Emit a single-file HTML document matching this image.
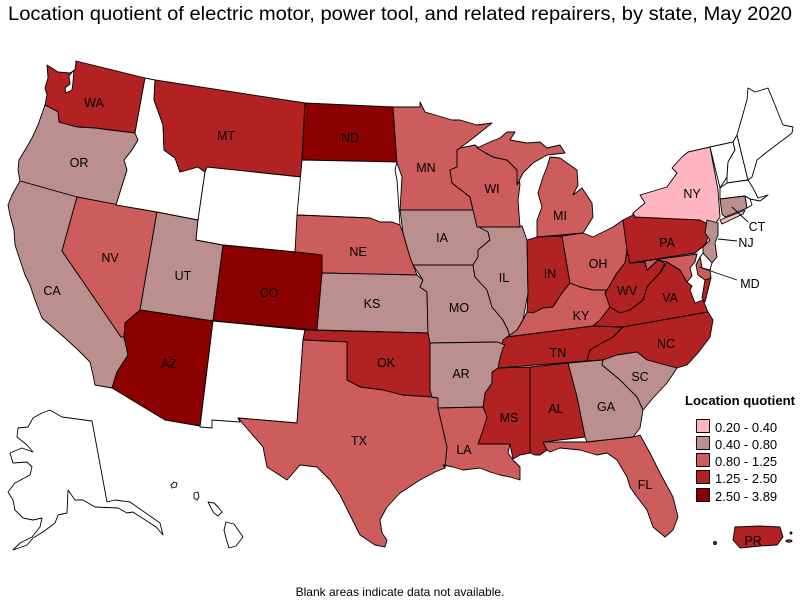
<!DOCTYPE html>
<html>
<head>
<meta charset="utf-8">
<style>
html,body{margin:0;padding:0;background:#fff;}
svg{display:block;}
text{font-family:"Liberation Sans",Arial,sans-serif;}
.s{stroke:#000;stroke-width:0.9;stroke-linejoin:round;}
.l{font-size:12.5px;fill:#000;text-anchor:middle;}
.p{fill:#ffb6c1}.r{fill:#bc8f8f}.i{fill:#cd5c5c}.f{fill:#b22222}.d{fill:#8b0000}.w{fill:#fff}
</style>
</head>
<body>
<svg width="800" height="600" viewBox="0 0 800 600" xmlns="http://www.w3.org/2000/svg">
<rect width="800" height="600" fill="#fff"/>
<text x="8" y="20" font-size="19" textLength="784" lengthAdjust="spacingAndGlyphs">Location quotient of electric motor, power tool, and related repairers, by state, May 2020</text>

<g class="s">
<!-- West -->
<polygon class="f" points="47,65 58,72 70,73 75,70 76,61 145,78 135,133 110,130 95,128 77,127 62,123 59,122 58,112 45,105 47,95 45,88 48,78"/>
<polygon class="w" points="69,76 74,70 73,82 72,90 66,93 65,88 70,84"/>
<polygon class="r" points="45,105 58,112 59,122 62,123 77,127 95,128 110,130 135,133 138,140 132,150 124,160 127,170 116,205 77,197 20,181 18,170 19,160 25,150 32,138 38,125"/>
<polygon class="r" points="20,181 77,197 62,251 121,337 124,337 128,355 117,372 112,388 95,385 93,375 90,362 78,350 65,338 50,325 42,318 35,300 30,285 25,275 20,260 15,245 14,230 10,215 8,205 12,195 16,188"/>
<polygon class="i" points="77,197 157,212 140,310 125,323 124,337 121,337 62,251"/>
<polygon class="r" points="157,212 198,220 196,240 223,245 213,321 140,310"/>
<polygon class="d" points="125,323 140,310 213,321 200,426 165,420 112,388 117,372 128,355 124,337"/>
<polygon class="w" points="145,78 155,80 154,100 163,125 164,150 175,158 180,172 198,167 205,172 198,220 157,212 116,205 127,170 124,160 132,150 138,140 135,133"/>
<polygon class="f" points="155,80 305,103 301,177 207,167 205,172 198,167 180,172 175,158 164,150 163,125 154,100"/>
<polygon class="w" points="207,167 301,177 295,252 223,245 196,240 198,220 205,172"/>
<polygon class="d" points="305,103 393,107 397,162 302,160"/>
<polygon class="w" points="302,160 397,162 395,170 397,180 400,225 392,222 380,222 370,218 297,215"/>
<polygon class="i" points="297,215 370,218 380,222 392,222 400,225 403,233 410,257 417,275 322,273 322,255 295,252"/>
<polygon class="d" points="223,245 295,252 322,255 322,273 317,330 213,321"/>
<polygon class="r" points="322,273 417,275 423,280 420,287 427,292 428,333 317,330"/>
<polygon class="w" points="213,321 305,330 303,340 297,423 238,418 240,422 212,420 212,428 200,427"/>
<polygon class="f" points="305,330 428,333 430,343 432,397 402,395 383,390 360,387 347,380 347,342 303,340"/>
<polygon class="i" points="303,340 347,342 347,380 360,387 383,390 402,395 432,397 438,398 438,408 447,447 445,468 435,472 420,480 400,493 387,507 380,520 382,533 387,540 385,547 375,545 360,535 350,515 340,495 330,480 317,467 300,465 287,480 267,467 263,447 250,432 238,418 297,423"/>
<!-- Midwest -->
<polygon class="i" points="393,107 420,107 420,102 425,112 452,120 460,120 477,125 492,123 477,135 460,148 457,150 457,167 450,170 452,183 470,197 473,210 400,210 402,177 397,163"/>
<polygon class="r" points="400,210 473,210 477,222 488,232 490,240 478,250 478,257 473,267 413,265 410,257 403,233"/>
<polygon class="r" points="413,265 473,265 475,277 487,290 492,307 503,320 508,330 510,338 505,345 497,342 430,343 428,333 427,292 420,287 423,280"/>
<polygon class="r" points="477,226 522,226 527,240 528,293 523,320 517,330 510,338 508,330 503,320 492,307 487,290 475,277 473,265 478,257 478,250 490,240 488,232"/>
<polygon class="i" points="457,150 460,148 475,145 487,154 493,157 507,160 515,168 517,170 520,185 518,200 520,227 477,227 473,210 470,197 452,183 450,170 457,167"/>
<polygon class="i" points="477,148 490,142 500,138 507,132 515,132 510,140 527,143 540,142 547,148 560,145 565,153 547,155 533,163 523,173 517,185 517,170 515,168 507,160 493,157"/>
<polygon class="i" points="537,237 583,233 593,217 592,203 582,188 573,195 578,185 577,170 560,158 550,157 547,167 543,177 538,193 542,207 537,220"/>
<polygon class="f" points="527,240 537,237 562,236 570,283 562,293 553,307 543,308 533,313 527,312 528,293"/>
<polygon class="i" points="562,236 583,233 593,237 613,227 623,220 627,250 625,263 617,273 607,290 593,290 580,287 570,283"/>
<polygon class="i" points="507,337 510,335 517,330 523,320 527,312 533,313 543,308 553,307 562,293 570,283 580,287 593,290 607,290 605,293 610,307 600,320 593,326"/>
<!-- South -->
<polygon class="f" points="503,340 507,337 593,326 623,327 613,337 602,343 590,350 587,361 498,368 500,357"/>
<polygon class="f" points="593,326 600,320 610,307 620,313 630,310 643,300 647,287 653,280 660,273 667,262 672,265 680,270 687,282 692,286 690,290 695,303 703,300 708,312 623,327"/>
<polygon class="f" points="623,327 708,312 713,320 710,337 698,353 687,365 677,368 647,360 637,352 617,355 603,360 587,361 590,350 602,343 613,337"/>
<polygon class="f" points="627,250 630,263 645,262 647,270 658,260 665,263 660,273 653,280 647,287 643,300 630,310 620,313 610,307 605,293 607,290 617,273 625,263"/>
<polygon class="r" points="603,360 617,355 637,352 647,360 677,368 667,383 653,398 643,410 637,397 620,380 602,365"/>
<polygon class="r" points="568,363 603,360 602,365 620,380 637,397 643,410 640,428 633,437 587,442 585,437 577,397"/>
<polygon class="f" points="530,367 568,363 577,397 585,437 543,442 547,450 540,455 535,455 530,453"/>
<polygon class="f" points="498,368 530,367 530,453 520,455 513,459 510,444 478,444 482,433 487,417 483,407 485,393 492,383 492,372"/>
<polygon class="r" points="430,343 497,342 505,345 503,348 500,358 498,368 492,372 492,383 485,393 483,407 438,408 438,398 432,397 430,390"/>
<polygon class="i" points="438,408 483,407 487,417 482,433 478,444 510,444 508,453 513,460 520,467 520,480 510,477 500,475 490,472 480,468 463,470 453,467 443,465 445,468 447,447"/>
<polygon class="i" points="543,442 587,442 633,437 640,435 650,453 660,473 673,497 678,517 673,530 665,537 653,527 647,510 637,497 630,487 627,477 617,460 607,453 597,455 580,450 560,448 550,452 547,450"/>
<!-- Northeast -->
<polygon class="f" points="623,220 633,215 633,213 700,208 705,220 710,233 705,245 695,253 630,263 627,250"/>
<polygon class="p" points="688,152 710,147 718,190 720,217 713,227 700,220 635,217 633,213 645,203 640,195 667,187 677,173 672,168 682,157"/>
<polygon class="p" points="720,220 745,210 743,214 722,224"/>
<polygon class="w" points="710,147 733,142 735,150 728,162 727,177 720,188"/>
<polygon class="w" points="733,142 737,135 748,180 727,183 727,177 728,162 735,150"/>
<polygon class="w" points="737,135 747,100 748,88 755,92 768,88 775,105 783,125 793,127 792,133 787,137 780,142 767,152 757,160 752,177 748,180"/>
<polygon class="w" points="720,188 727,183 748,180 753,188 758,198 768,195 760,201 750,199 745,196 720,199"/>
<polygon class="r" points="720,199 745,196 747,208 725,217 722,214"/>
<polygon class="w" points="745,196 750,199 752,205 747,208"/>
<polygon class="r" points="707,220 718,223 718,235 715,243 717,257 712,263 703,253 703,247 710,240 705,233"/>
<polygon class="w" points="703,253 712,263 710,270 702,268 700,257"/>
<polygon class="i" points="630,263 697,254 695,262 690,268 692,276 687,282 680,270 672,265 667,262 658,260 647,270 645,262"/>
<polygon class="i" points="700,257 702,268 710,270 711,278 705,280 698,275 696,265"/>
<polygon class="f" points="705,280 711,278 708,290 705,302 702,298"/>
<!-- PR -->
<polygon class="f" points="735,527 760,526 780,527 783,537 777,545 760,546 740,548 733,540"/>
<circle class="f" cx="715" cy="543" r="1.5"/>
<ellipse class="f" cx="789" cy="541" rx="3" ry="1.2"/>
<circle class="f" cx="791" cy="533" r="1"/>
<!-- AK -->
<polygon class="w" points="50,410 62,417 92,421 107,502 115,500 130,502 160,523 163,535 157,528 153,525 133,512 127,513 118,508 95,507 83,500 75,500 68,490 67,513 58,515 55,523 43,532 33,538 27,545 13,550 20,543 32,537 40,527 42,518 33,520 23,518 15,510 13,500 8,492 15,483 30,475 32,467 27,462 13,463 10,453 22,448 33,452 27,445 17,437 18,428 28,427 33,418 42,413"/>
<!-- HI -->
<polygon class="w" points="171,485 174,482 177,483 176,487 172,488"/>
<polygon class="w" points="194,493 198,492 199,497 197,500 194,498"/>
<polygon class="w" points="208,502 214,503 218,507 222,512 218,516 214,513 211,508"/>
<polygon class="w" points="226,522 234,524 243,537 236,546 229,548 226,538 224,530"/>
</g>

<!-- leader lines -->
<g stroke="#000" stroke-width="0.9">
<line x1="732" y1="207" x2="748" y2="222"/>
<line x1="718" y1="239" x2="737" y2="241"/>
<line x1="699" y1="267" x2="737" y2="280"/>
</g>

<g class="l">
<text x="94" y="107">WA</text>
<text x="79" y="167">OR</text>
<text x="52" y="295">CA</text>
<text x="110" y="262">NV</text>
<text x="183" y="280">UT</text>
<text x="226" y="140">MT</text>
<text x="350" y="142">ND</text>
<text x="358" y="256">NE</text>
<text x="269" y="297">CO</text>
<text x="372" y="308">KS</text>
<text x="426" y="172">MN</text>
<text x="492" y="193">WI</text>
<text x="560" y="220">MI</text>
<text x="442" y="242">IA</text>
<text x="504" y="282">IL</text>
<text x="550" y="278">IN</text>
<text x="598" y="268">OH</text>
<text x="667" y="247">PA</text>
<text x="692" y="198">NY</text>
<text x="627" y="295">WV</text>
<text x="670" y="302">VA</text>
<text x="581" y="320">KY</text>
<text x="459" y="312">MO</text>
<text x="169" y="368">AZ</text>
<text x="359" y="445">TX</text>
<text x="386" y="367">OK</text>
<text x="461" y="378">AR</text>
<text x="558" y="357">TN</text>
<text x="666" y="348">NC</text>
<text x="640" y="381">SC</text>
<text x="606" y="411">GA</text>
<text x="556" y="413">AL</text>
<text x="509" y="422">MS</text>
<text x="464" y="454">LA</text>
<text x="645" y="489">FL</text>
<text x="753" y="545">PR</text>
<text x="757" y="231">CT</text>
<text x="746" y="247">NJ</text>
<text x="750" y="288">MD</text>
</g>

<!-- Legend -->
<text x="685" y="405" font-size="13" font-weight="bold" textLength="110" lengthAdjust="spacingAndGlyphs">Location quotient</text>
<g class="s">
<rect x="696.5" y="419.5" width="13" height="13" class="p"/>
<rect x="696.5" y="436.5" width="13" height="13" class="r"/>
<rect x="696.5" y="453.5" width="13" height="13" class="i"/>
<rect x="696.5" y="470.5" width="13" height="13" class="f"/>
<rect x="696.5" y="488.5" width="13" height="13" class="d"/>
</g>
<g font-size="13" fill="#000">
<text x="715" y="432">0.20 - 0.40</text>
<text x="715" y="449">0.40 - 0.80</text>
<text x="715" y="466">0.80 - 1.25</text>
<text x="715" y="483">1.25 - 2.50</text>
<text x="715" y="501">2.50 - 3.89</text>
</g>

<text x="400" y="596" font-size="12" text-anchor="middle">Blank areas indicate data not available.</text>
</svg>
</body>
</html>
